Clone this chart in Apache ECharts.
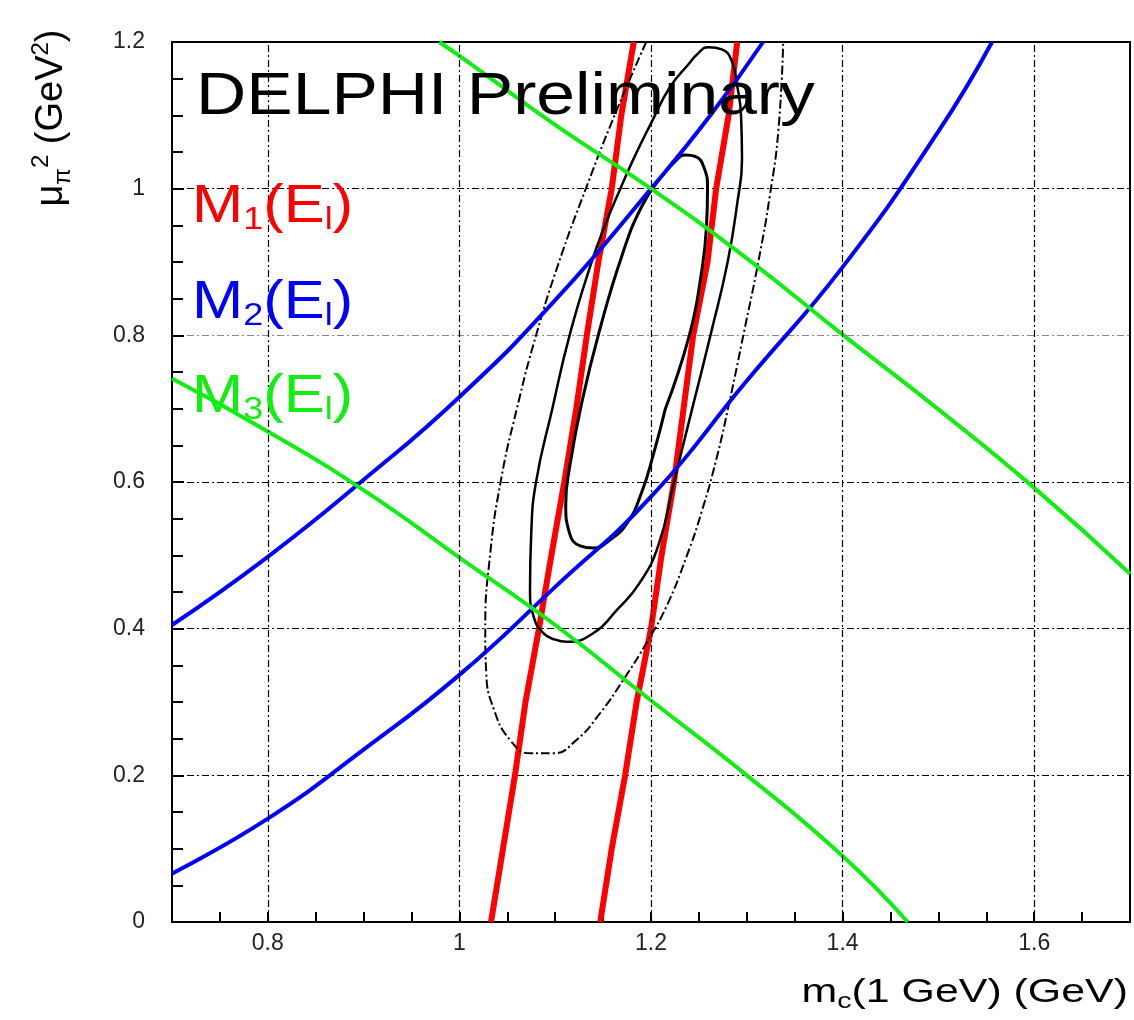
<!DOCTYPE html>
<html><head><meta charset="utf-8">
<script src="https://cdn.jsdelivr.net/npm/echarts@6/dist/echarts.min.js"></script>
<style>html,body{margin:0;padding:0;background:#fff}#c{width:1134px;height:1020px}</style>
</head><body><div id="c"></div>
<script>
// ---- data ----
const xGridValues = [0.8, 1.0, 1.2, 1.4, 1.6];
const xTickLabels = ['0.8', '1', '1.2', '1.4', '1.6'];
const yTickLabels = ['0', '0.2', '0.4', '0.6', '0.8', '1', '1.2'];

const m1Left = [[1.033,0],[1.0455,0.1],[1.058,0.2],[1.069,0.3],[1.083,0.4],[1.096,0.5],[1.1095,0.6],[1.122,0.7],[1.133,0.8],[1.145,0.9],[1.159,1.0],[1.169,1.1],[1.182,1.2]];
const m1Right = [[1.147,0],[1.159,0.1],[1.173,0.2],[1.185,0.3],[1.2,0.4],[1.211,0.5],[1.224,0.6],[1.234,0.7],[1.244,0.8],[1.259,0.9],[1.268,1.0],[1.281,1.1],[1.29,1.2]];
const m2Upper = [[0.7,0.405],[0.8,0.498],[0.9,0.603],[1.0,0.716],[1.1,0.848],[1.2,1.0],[1.262,1.1],[1.317,1.2]];
const m2Lower = [[0.7,0.066],[0.8,0.141],[0.9,0.235],[1.0,0.337],[1.1,0.457],[1.2,0.58],[1.3,0.738],[1.4,0.893],[1.5,1.078],[1.556,1.2]];
const m3Upper = [[0.979,1.2],[1.011,1.171],[1.1,1.087],[1.2,1.0],[1.3,0.905],[1.4,0.801],[1.5,0.699],[1.6,0.592],[1.7,0.475]];
const m3Lower = [[0.7,0.741],[0.8,0.669],[0.9,0.589],[1.0,0.497],[1.1,0.405],[1.2,0.302],[1.3,0.2],[1.4,0.09],[1.468,0]];

const contourInner = [[1.215,0.700],[1.240,0.800],[1.252,0.880],[1.258,0.950],[1.259,1.000],[1.255,1.030],[1.246,1.044],[1.236,1.046],[1.225,1.037],[1.210,1.015],[1.190,0.975],[1.170,0.910],[1.147,0.810],[1.128,0.710],[1.115,0.620],[1.111,0.570],[1.115,0.530],[1.126,0.513],[1.140,0.510],[1.157,0.521],[1.175,0.544],[1.190,0.585],[1.203,0.640],[1.215,0.700]];
const contourMiddle = [[1.243,0.700],[1.263,0.805],[1.280,0.900],[1.290,0.980],[1.295,1.040],[1.294,1.100],[1.290,1.140],[1.284,1.175],[1.274,1.190],[1.260,1.193],[1.248,1.183],[1.240,1.171],[1.220,1.139],[1.200,1.089],[1.183,1.044],[1.168,1.000],[1.152,0.950],[1.138,0.900],[1.115,0.800],[1.097,0.700],[1.080,0.600],[1.075,0.530],[1.0737,0.453],[1.0776,0.416],[1.0876,0.394],[1.100,0.385],[1.112,0.382],[1.140,0.394],[1.164,0.425],[1.188,0.462],[1.208,0.515],[1.224,0.600],[1.243,0.700]];
const contourOuter = [[1.195,1.200],[1.162,1.100],[1.132,1.000],[1.104,0.900],[1.080,0.800],[1.060,0.700],[1.043,0.600],[1.032,0.500],[1.027,0.400],[1.028,0.340],[1.036,0.290],[1.053,0.248],[1.074,0.230],[1.098,0.230],[1.122,0.248],[1.147,0.285],[1.171,0.330],[1.195,0.380],[1.216,0.430],[1.237,0.498],[1.253,0.560],[1.268,0.630],[1.282,0.710],[1.297,0.804],[1.312,0.900],[1.324,0.990],[1.333,1.080],[1.338,1.200]];

// ---- chart ----
const FONT = 'Liberation Sans';
const RED = '#ff0000', BLUE = '#0000ff', GREEN = '#11ee11';
const dashDot = [7, 3, 2, 3];

function line(name, data, color, width, opts) {
  return Object.assign({
    name: name, type: 'line', data: data, showSymbol: false, symbol: 'none',
    lineStyle: { color: color, width: width }, silent: true, animation: false, clip: true
  }, opts || {});
}

function mLabel(idx, color, y) {
  return { type: 'text', x: 192, y: y, scaleX: 1.16, z: 100,
    style: {
      text: '{b|M}{s|' + idx + '}{b|(E}{s|l}{b|)}', textVerticalAlign: 'middle',
      rich: {
        b: { fontFamily: FONT, fontSize: 53, fill: color, verticalAlign: 'middle' },
        s: { fontFamily: FONT, fontSize: 31, fill: color, verticalAlign: 'middle', padding: [27, 0, 0, 0] }
      }
    } };
}

const chart = echarts.init(document.getElementById('c'), null, { renderer: 'canvas' });
chart.setOption({
  backgroundColor: '#ffffff',
  animation: false,
  grid: { left: 172, top: 42, right: 4, bottom: 98, show: true, borderColor: '#000', borderWidth: 2, backgroundColor: 'transparent' },
  xAxis: {
    type: 'value', min: 0.7, max: 1.7, interval: 0.1,
    axisLine: { show: true, onZero: false, lineStyle: { color: '#000', width: 2 } },
    axisTick: { show: true, inside: true, length: 10, lineStyle: { color: '#000', width: 2 } },
    minorTick: { show: true, splitNumber: 2, length: 10, lineStyle: { color: '#000', width: 2 } },
    splitLine: { show: false },
    axisLabel: {
      margin: 10, fontFamily: FONT, fontSize: 23, color: '#222',
      formatter: function (v) {
        const i = xGridValues.findIndex(g => Math.abs(g - v) < 1e-6);
        return i >= 0 ? xTickLabels[i] : '';
      }
    }
  },
  yAxis: {
    type: 'value', min: 0, max: 1.2, interval: 0.2,
    axisLine: { show: true, onZero: false, lineStyle: { color: '#000', width: 2 } },
    axisTick: { show: true, inside: true, length: 12, lineStyle: { color: '#000', width: 2 } },
    minorTick: { show: true, splitNumber: 4, length: 11, lineStyle: { color: '#000', width: 2 } },
    splitLine: { show: true, lineStyle: { color: ['#000', '#000', '#000', '#000', '#8a8a8a', '#000', '#000'], width: 1.2, type: dashDot } },
    axisLabel: {
      margin: 27, fontFamily: FONT, fontSize: 23, color: '#222',
      formatter: function (v) { return yTickLabels[Math.round(v / 0.2)]; }
    }
  },
  series: [
    line('grid', [], '#000', 1, {
      markLine: {
        silent: true, symbol: 'none', animation: false,
        label: { show: false },
        lineStyle: { color: '#000', width: 1.2, type: dashDot },
        data: xGridValues.map(v => ({ xAxis: v }))
      }
    }),
    line('M1 left', m1Left, RED, 6),
    line('M1 right', m1Right, RED, 6),
    line('outer', contourOuter, '#000', 2, { smooth: 0.5, lineStyle: { color: '#000', width: 2, type: [9, 3, 2, 3] } }),
    line('middle', contourMiddle, '#000', 2.5, { smooth: 0.5 }),
    line('inner', contourInner, '#000', 3, { smooth: 0.5 }),
    line('M2 upper', m2Upper, BLUE, 4, { smooth: 0.5 }),
    line('M2 lower', m2Lower, BLUE, 4, { smooth: 0.5 }),
    line('M3 upper', m3Upper, GREEN, 4, { smooth: 0.5 }),
    line('M3 lower', m3Lower, GREEN, 4, { smooth: 0.5 })
  ],
  graphic: [
    { type: 'text', x: 196, y: 97, scaleX: 1.16, z: 100,
      style: { text: 'DELPHI Preliminary', fontFamily: FONT, fontSize: 60, fill: '#000', textVerticalAlign: 'middle' } },
    mLabel('1', RED, 207),
    mLabel('2', BLUE, 303),
    mLabel('3', GREEN, 397),
    { type: 'text', x: 1128, y: 993, scaleX: 1.3, z: 100,
      style: {
        text: '{b|m}{s|c}{b|(1 GeV) (GeV)}', textAlign: 'right', textVerticalAlign: 'middle',
        rich: {
          b: { fontFamily: FONT, fontSize: 33, fill: '#000', verticalAlign: 'middle' },
          s: { fontFamily: FONT, fontSize: 22, fill: '#000', verticalAlign: 'middle', padding: [18, 0, 0, 0] }
        }
      } },
    { type: 'text', x: 52, y: 118, rotation: Math.PI / 2, z: 100,
      style: {
        text: '{b|μ}{s|π}{p|2}{b| (GeV}{p|2}{b|)}', textAlign: 'center', textVerticalAlign: 'middle',
        rich: {
          b: { fontFamily: FONT, fontSize: 38, fill: '#000', verticalAlign: 'middle' },
          s: { fontFamily: FONT, fontSize: 24, fill: '#000', verticalAlign: 'middle', padding: [22, 0, 0, 0] },
          p: { fontFamily: FONT, fontSize: 24, fill: '#000', verticalAlign: 'middle', padding: [0, 0, 22, 0] }
        }
      } }
  ]
});
</script>
</body></html>
